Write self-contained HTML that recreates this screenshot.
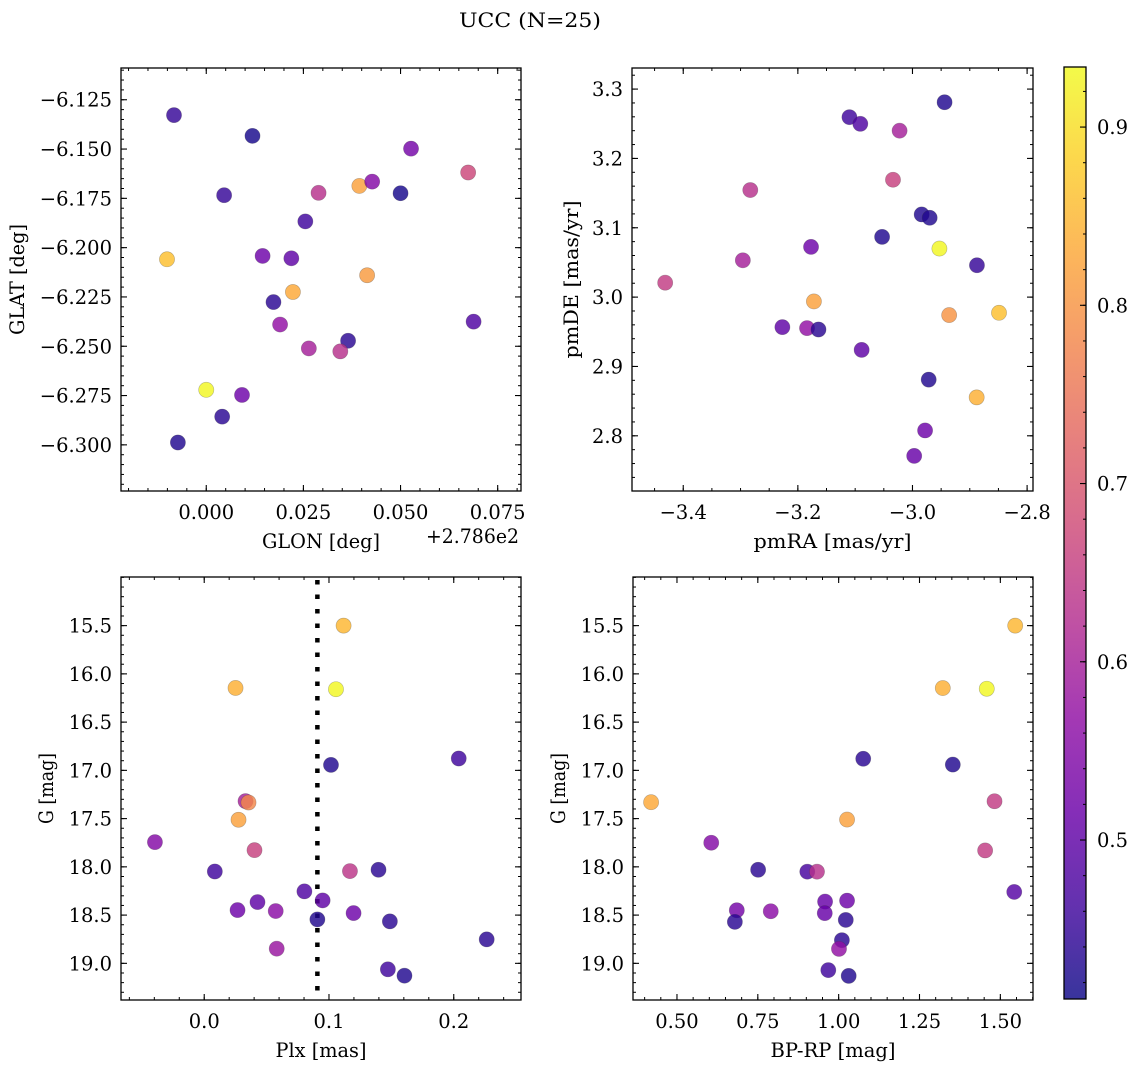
<!DOCTYPE html>
<html>
<head>
<meta charset="utf-8">
<style>
html,body{margin:0;padding:0;background:#fff;}
svg{display:block;font-family:"DejaVu Serif","Liberation Serif",serif;}
</style>
</head>
<body>
<svg id="fig" width="1136" height="1067" viewBox="0 0 1136 1067" xmlns="http://www.w3.org/2000/svg">
<defs>
<linearGradient id="cbgrad" x1="0" y1="1" x2="0" y2="0">
<stop offset="0" stop-color="#0d0887"/>
<stop offset="0.1" stop-color="#41049d"/>
<stop offset="0.2" stop-color="#6a00a8"/>
<stop offset="0.3" stop-color="#8f0da4"/>
<stop offset="0.4" stop-color="#b12a90"/>
<stop offset="0.5" stop-color="#cc4778"/>
<stop offset="0.6" stop-color="#e16462"/>
<stop offset="0.7" stop-color="#f2844b"/>
<stop offset="0.8" stop-color="#fca636"/>
<stop offset="0.9" stop-color="#fcce25"/>
<stop offset="1" stop-color="#f0f921"/>
</linearGradient>
</defs>
<text x="530" y="27" text-anchor="middle" font-size="20" textLength="142" lengthAdjust="spacingAndGlyphs">UCC (N=25)</text>
</svg>
<script>
// ---------------- data ----------------
const glon = [-0.0083,0.0119,0.0527,0.0674,0.0394,0.0427,0.0289,0.0046,0.0500,0.0255,-0.0101,0.0145,0.0219,0.0414,0.0223,0.0173,0.0190,0.0688,0.0365,0.0264,0.0345,0.0000,0.0092,0.0041,-0.0073];
const glat = [-6.1328,-6.1433,-6.1498,-6.1619,-6.1687,-6.1665,-6.1722,-6.1734,-6.1724,-6.1867,-6.2059,-6.2042,-6.2054,-6.2140,-6.2225,-6.2276,-6.2390,-6.2375,-6.2472,-6.2511,-6.2526,-6.2721,-6.2747,-6.2857,-6.2988];
const probTL = [0.45,0.42,0.53,0.67,0.82,0.55,0.63,0.45,0.42,0.46,0.86,0.52,0.50,0.81,0.83,0.44,0.57,0.48,0.44,0.60,0.63,0.93,0.52,0.44,0.43];

const pmra = [-2.944,-3.110,-3.091,-3.0225,-3.034,-3.283,-2.984,-2.970,-3.053,-3.177,-2.953,-3.296,-2.8875,-3.4315,-3.172,-2.936,-2.849,-3.227,-3.184,-3.164,-3.0887,-2.9717,-2.888,-2.978,-2.997];
const pmde = [3.281,3.2595,3.2499,3.240,3.1693,3.1544,3.1192,3.1144,3.0869,3.0724,3.070,3.0531,3.0459,3.0208,2.9938,2.9741,2.9774,2.9567,2.9553,2.9533,2.9239,2.881,2.8554,2.8077,2.771];
const probTR = [0.43,0.46,0.48,0.60,0.66,0.63,0.43,0.43,0.43,0.52,0.93,0.60,0.45,0.65,0.82,0.80,0.86,0.50,0.57,0.44,0.50,0.43,0.84,0.52,0.51];

const plx = [0.1117,0.0251,0.1056,0.1016,0.204,0.0331,0.0355,0.0275,-0.0395,0.0403,0.0085,0.1168,0.1397,0.0803,0.0949,0.0427,0.0267,0.0573,0.1197,0.0907,0.1488,0.0581,0.2264,0.1472,0.1605];
const gmagBL = [15.50,16.146,16.159,16.943,16.877,17.319,17.333,17.512,17.744,17.827,18.048,18.044,18.030,18.254,18.348,18.365,18.448,18.458,18.479,18.545,18.565,18.848,18.752,19.062,19.128];
const probBL = [0.85,0.84,0.93,0.43,0.46,0.60,0.78,0.82,0.55,0.66,0.46,0.64,0.44,0.48,0.50,0.50,0.52,0.56,0.52,0.43,0.44,0.58,0.44,0.46,0.43];
const plxLine = [0.0907];

const bprp = [1.546,1.322,1.458,1.076,1.353,0.420,1.482,1.026,0.606,1.453,0.751,0.903,0.933,1.543,1.026,0.958,0.685,0.790,0.957,0.679,1.022,1.010,1.001,0.968,1.031];
const gmagBR = [15.50,16.147,16.154,16.88,16.94,17.33,17.32,17.51,17.75,17.83,18.03,18.05,18.05,18.26,18.35,18.36,18.45,18.46,18.48,18.57,18.55,18.76,18.85,19.07,19.13];
const probBR = [0.85,0.84,0.93,0.44,0.43,0.83,0.65,0.82,0.55,0.65,0.44,0.47,0.63,0.49,0.52,0.51,0.53,0.56,0.51,0.44,0.44,0.44,0.57,0.46,0.43];

const ticksTLx = [0.000,0.025,0.050,0.075];
const labelsTLx = ["0.000","0.025","0.050","0.075"];
const ticksTLy = [-6.125,-6.150,-6.175,-6.200,-6.225,-6.250,-6.275,-6.300];
const labelsTLy = ["−6.125","−6.150","−6.175","−6.200","−6.225","−6.250","−6.275","−6.300"];
const ticksTRx = [-3.4,-3.2,-3.0,-2.8];
const labelsTRx = ["−3.4","−3.2","−3.0","−2.8"];
const ticksTRy = [2.8,2.9,3.0,3.1,3.2,3.3];
const labelsTRy = ["2.8","2.9","3.0","3.1","3.2","3.3"];
const ticksBLx = [0.0,0.1,0.2];
const labelsBLx = ["0.0","0.1","0.2"];
const ticksGy = [15.5,16.0,16.5,17.0,17.5,18.0,18.5,19.0];
const labelsGy = ["15.5","16.0","16.5","17.0","17.5","18.0","18.5","19.0"];
const ticksBRx = [0.50,0.75,1.00,1.25,1.50];
const labelsBRx = ["0.50","0.75","1.00","1.25","1.50"];
const ticksCb = [0.5,0.6,0.7,0.8,0.9];
const labelsCb = ["0.5","0.6","0.7","0.8","0.9"];

const CMIN = 0.4108, CMAX = 0.9337;
// ---------------- helpers ----------------
const NS = "http://www.w3.org/2000/svg";
const svg = document.getElementById("fig");
const FS = 19.5;
const plasma = [[13,8,135],[65,4,157],[106,0,168],[143,13,164],[177,42,144],[204,71,120],[225,100,98],[242,132,75],[252,166,54],[252,206,37],[240,249,33]];
function cmap(v){
  let t = (v-CMIN)/(CMAX-CMIN); t=Math.max(0,Math.min(1,t));
  const p=t*10, i=Math.min(9,Math.floor(p)), f=p-i;
  const a=plasma[i], b=plasma[i+1];
  return "rgb("+[0,1,2].map(k=>Math.round(a[k]+(b[k]-a[k])*f)).join(",")+")";
}
function lin(d0,d1,r0,r1){ return v => r0+(v-d0)/(d1-d0)*(r1-r0); }
function mk(tag, attrs, parent){
  const e=document.createElementNS(NS,tag);
  for(const k in attrs) e.setAttribute(k,attrs[k]);
  (parent||svg).appendChild(e); return e;
}
function numWidth(s){
  let w=0;
  for(const ch of s){
    if(ch==='.') w+=0.318; else if(ch==='−'||ch==='+') w+=0.838; else if(ch==='e') w+=0.592; else w+=0.636;
  }
  return w*FS;
}
function fitText(t, len){
  t.setAttribute("textLength", len.toFixed(1));
  t.setAttribute("lengthAdjust", "spacingAndGlyphs");
}

function panel(cfg){
  const g = mk("g",{});
  
  
  const sx = lin(cfg.xd[0],cfg.xd[1],cfg.L,cfg.R);
  const sy = lin(cfg.yd[0],cfg.yd[1],cfg.B,cfg.T);
  if(cfg.vline){
    cfg.vline.forEach(v=>{
      const ln = mk("line",{x1:sx(v),x2:sx(v),y1:cfg.T+3,y2:cfg.B,stroke:"#000","stroke-width":4.5,"stroke-dasharray":"4.5 10"},g);
      
      
    });
  }
  for(let i=0;i<cfg.xs.length;i++){
    const c = mk("circle",{cx:sx(cfg.xs[i]),cy:sy(cfg.ys[i]),r:7.6,fill:cmap(cfg.cs[i]),"fill-opacity":0.82,stroke:"rgba(60,60,60,0.35)","stroke-width":0.6},g);
    
    
  }
  const fr = mk("rect",{x:cfg.L,y:cfg.T,width:cfg.R-cfg.L,height:cfg.B-cfg.T,fill:"none",stroke:"#000","stroke-width":1.3},g);
  
  
  const eps=1e-9;
  function minorVals(d, step){
    const lo=Math.min(d[0],d[1]), hi=Math.max(d[0],d[1]); const out=[];
    for(let k=Math.ceil(lo/step-eps);k*step<=hi+eps;k++) out.push(k*step);
    return out;
  }
  minorVals(cfg.xd,cfg.xminor).forEach(v=>{
    const x=sx(v);
    mk("line",{x1:x,x2:x,y1:cfg.B,y2:cfg.B-3,stroke:"#000","stroke-width":1},g);
    mk("line",{x1:x,x2:x,y1:cfg.T,y2:cfg.T+3,stroke:"#000","stroke-width":1},g);
  });
  minorVals(cfg.yd,cfg.yminor).forEach(v=>{
    const y=sy(v);
    mk("line",{x1:cfg.L,x2:cfg.L+3,y1:y,y2:y,stroke:"#000","stroke-width":1},g);
    mk("line",{x1:cfg.R,x2:cfg.R-3,y1:y,y2:y,stroke:"#000","stroke-width":1},g);
  });
  cfg.xt.forEach((v,i)=>{
    const x=sx(v);
    mk("line",{x1:x,x2:x,y1:cfg.B,y2:cfg.B-6,stroke:"#000","stroke-width":1.1},g);
    mk("line",{x1:x,x2:x,y1:cfg.T,y2:cfg.T+6,stroke:"#000","stroke-width":1.1},g);
    const t=mk("text",{x:x,y:cfg.B+28,"text-anchor":"middle","font-size":FS},g);
    t.textContent=cfg.xl[i];
    fitText(t, numWidth(cfg.xl[i]));
    
    
  });
  cfg.yt.forEach((v,i)=>{
    const y=sy(v);
    mk("line",{x1:cfg.L,x2:cfg.L+6,y1:y,y2:y,stroke:"#000","stroke-width":1.1},g);
    mk("line",{x1:cfg.R,x2:cfg.R-6,y1:y,y2:y,stroke:"#000","stroke-width":1.1},g);
    const t=mk("text",{x:cfg.L-9,y:y+7,"text-anchor":"end","font-size":FS},g);
    t.textContent=cfg.yl[i];
    fitText(t, numWidth(cfg.yl[i]));
    
    
  });
  const xt=mk("text",{x:(cfg.L+cfg.R)/2,y:cfg.B+57,"text-anchor":"middle","font-size":FS},g);
  xt.textContent=cfg.xtitle;
  fitText(xt, cfg.xtw);
  
  
  const yx=cfg.ytx, yy=(cfg.T+cfg.B)/2;
  const yt=mk("text",{x:yx,y:yy,"text-anchor":"middle","font-size":FS,transform:"rotate(-90 "+yx+" "+yy+")"},g);
  yt.textContent=cfg.ytitle;
  fitText(yt, cfg.ytw);
  
  
  if(cfg.offset){
    const o=mk("text",{x:cfg.R-2,y:cfg.B+52,"text-anchor":"end","font-size":FS},g);
    o.textContent=cfg.offset;
    fitText(o, 93);
    
    
  }
}

panel({name:"glon-glat-panel",L:121,R:521,T:68,B:491,xd:[-0.02194,0.0810],yd:[-6.3234,-6.1089],
  xs:glon,ys:glat,cs:probTL,xt:ticksTLx,xl:labelsTLx,yt:ticksTLy,yl:labelsTLy,xminor:0.005,yminor:0.005,
  xtitle:"GLON [deg]",ytitle:"GLAT [deg]",ytx:24,xtw:118,ytw:111,offset:"+2.786e2"});
panel({name:"proper-motion-panel",L:632,R:1033,T:68,B:491,xd:[-3.4894,-2.7897],yd:[2.7204,3.3304],
  xs:pmra,ys:pmde,cs:probTR,xt:ticksTRx,xl:labelsTRx,yt:ticksTRy,yl:labelsTRy,xminor:0.05,yminor:0.02,
  xtitle:"pmRA [mas/yr]",ytitle:"pmDE [mas/yr]",ytx:578,xtw:158,ytw:158});
panel({name:"parallax-magnitude-panel",L:121,R:521,T:577,B:1000,xd:[-0.0667,0.2539],yd:[19.38,14.996],
  xs:plx,ys:gmagBL,cs:probBL,xt:ticksBLx,xl:labelsBLx,yt:ticksGy,yl:labelsGy,xminor:0.02,yminor:0.1,
  xtitle:"Plx [mas]",ytitle:"G [mag]",ytx:53,xtw:91,ytw:71,vline:plxLine});
panel({name:"color-magnitude-panel",L:633,R:1033,T:577,B:1000,xd:[0.364,1.601],yd:[19.38,14.996],
  xs:bprp,ys:gmagBR,cs:probBR,xt:ticksBRx,xl:labelsBRx,yt:ticksGy,yl:labelsGy,xminor:0.05,yminor:0.1,
  xtitle:"BP-RP [mag]",ytitle:"G [mag]",ytx:565,xtw:125,ytw:71});

// colorbar
(function(){
  const L=1064,R=1086,T=67,B=999;
  const g=mk("g",{});
  
  
  mk("rect",{x:L,y:T,width:R-L,height:B-T,fill:"url(#cbgrad)","fill-opacity":0.82},g);
  mk("rect",{x:L,y:T,width:R-L,height:B-T,fill:"none",stroke:"#000","stroke-width":1.3},g);
  const sy=lin(CMIN,CMAX,B,T);
  for(let k=Math.ceil(CMIN/0.02);k*0.02<=CMAX;k++){
    const y=sy(k*0.02);
    mk("line",{x1:R,x2:R-3,y1:y,y2:y,stroke:"#000","stroke-width":1},g);
  }
  ticksCb.forEach((v,i)=>{
    const y=sy(v);
    mk("line",{x1:R,x2:R-6,y1:y,y2:y,stroke:"#000","stroke-width":1.1},g);
    const t=mk("text",{x:R+11,y:y+7,"font-size":FS},g);
    t.textContent=labelsCb[i];
    fitText(t, numWidth(labelsCb[i]));
    
    
  });
})();
</script>
</body>
</html>
